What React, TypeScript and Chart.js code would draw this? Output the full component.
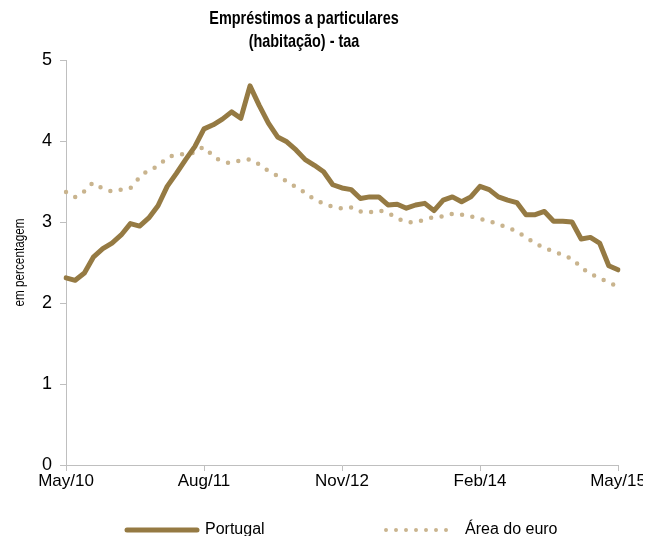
import React, { useEffect, useRef } from "react";
import { Chart, registerables } from "chart.js";

Chart.register(...registerables);

const MONTHS = ["Jan", "Feb", "Mar", "Apr", "May", "Jun", "Jul", "Aug", "Sep", "Oct", "Nov", "Dec"];
const START_MONTH = 4; // May
const START_YEAR = 10;
const N_POINTS = 61;
const TICK_EVERY = 15;

const categories: string[] = Array.from({ length: N_POINTS }, (_, i) => {
  const m = START_MONTH + i;
  return `${MONTHS[m % 12]}/${START_YEAR + Math.floor(m / 12)}`;
});

const portugal = [
  2.31, 2.28, 2.37, 2.57, 2.67, 2.74, 2.84, 2.98, 2.95, 3.05,
  3.20, 3.44, 3.60, 3.77, 3.93, 4.15, 4.20, 4.27, 4.36, 4.28,
  4.68, 4.44, 4.22, 4.05, 3.99, 3.89, 3.77, 3.70, 3.62, 3.46,
  3.42, 3.40, 3.29, 3.31, 3.31, 3.21, 3.22, 3.17, 3.21, 3.23,
  3.14, 3.27, 3.31, 3.25, 3.31, 3.44, 3.40, 3.31, 3.27, 3.24,
  3.09, 3.09, 3.13, 3.01, 3.01, 3.00, 2.79, 2.81, 2.74, 2.46,
  2.41,
];

const euroArea = [
  3.37, 3.31, 3.38, 3.48, 3.41, 3.38, 3.40, 3.42, 3.55, 3.64,
  3.69, 3.79, 3.83, 3.84, 3.86, 3.92, 3.81, 3.75, 3.73, 3.76,
  3.77, 3.71, 3.63, 3.57, 3.50, 3.43, 3.36, 3.28, 3.23, 3.19,
  3.17, 3.18, 3.13, 3.12, 3.14, 3.11, 3.05, 3.00, 3.00, 3.03,
  3.06, 3.07, 3.10, 3.09, 3.07, 3.04, 3.01, 2.97, 2.93, 2.88,
  2.81, 2.74, 2.68, 2.64, 2.59, 2.54, 2.44, 2.36, 2.31, 2.25,
  2.21,
];

const yTicks = [0, 1, 2, 3, 4, 5];

const TITLE_LINES = ["Empréstimos a particulares", "(habitação) - taa"];
const Y_TITLE = "em percentagem";
const SERIES_NAMES = ["Portugal", "Área do euro"];

const C_PT = "#957A43";
const C_EU = "#C9B48E";
const C_AXIS = "#BFBFBF";
const FONT = "'Liberation Sans', Arial, sans-serif";

function narrowText(ctx: any, text: string, x: number, y: number, sx: number) {
  ctx.save();
  ctx.translate(x, y);
  ctx.scale(sx, 1);
  ctx.fillText(text, 0, 0);
  ctx.restore();
}

const overlayPlugin = {
  id: "overlay",
  afterDraw(chart: any) {
    const ctx = chart.ctx;
    const area = chart.chartArea;
    ctx.save();
    // title
    ctx.fillStyle = "#000";
    ctx.textAlign = "center";
    ctx.textBaseline = "middle";
    ctx.font = `bold 19px ${FONT}`;
    const tx = 296;
    narrowText(ctx, TITLE_LINES[0], tx, 11, 0.76);
    narrowText(ctx, TITLE_LINES[1], tx, 34, 0.76);
    // y title
    ctx.save();
    ctx.translate(12, (area.top + area.bottom) / 2);
    ctx.rotate(-Math.PI / 2);
    ctx.font = `14px ${FONT}`;
    narrowText(ctx, Y_TITLE, 0, 0, 0.84);
    ctx.restore();
    // legend
    const ly = chart.height - 6;
    ctx.textAlign = "left";
    ctx.font = `16px ${FONT}`;
    ctx.strokeStyle = C_PT;
    ctx.lineWidth = 5;
    ctx.lineCap = "round";
    ctx.beginPath();
    ctx.moveTo(119, ly);
    ctx.lineTo(189, ly);
    ctx.stroke();
    ctx.fillText(SERIES_NAMES[0], 197, ly);
    ctx.strokeStyle = C_EU;
    ctx.lineWidth = 4;
    ctx.setLineDash([0, 10]);
    ctx.beginPath();
    ctx.moveTo(378, ly);
    ctx.lineTo(440, ly);
    ctx.stroke();
    ctx.setLineDash([]);
    ctx.fillText(SERIES_NAMES[1], 457, ly);
    ctx.restore();
  },
};

export default function App() {
  const ref = useRef<HTMLCanvasElement>(null);
  useEffect(() => {
    if (!ref.current) return;
    const chart = new Chart(ref.current, {
      type: "line",
      data: {
        labels: categories,
        datasets: [
          {
            label: SERIES_NAMES[0],
            data: portugal,
            borderColor: C_PT,
            borderWidth: 5,
            pointRadius: 0,
            tension: 0,
            borderJoinStyle: "round",
            borderCapStyle: "round",
          },
          {
            label: SERIES_NAMES[1],
            data: euroArea,
            borderColor: C_EU,
            borderWidth: 4.5,
            borderDash: [0, 10.5],
            borderCapStyle: "round",
            pointRadius: 0,
            tension: 0.3,
          },
        ],
      },
      options: {
        animation: false,
        responsive: false,
        maintainAspectRatio: false,
        devicePixelRatio: 1,
        layout: { autoPadding: false, padding: { top: 52, right: 33, left: 0, bottom: 0 } },
        plugins: {
          legend: { display: false },
          title: { display: false },
          tooltip: { enabled: false },
        },
        scales: {
          x: {
            type: "category",
            offset: false,
            grid: {
              drawOnChartArea: false,
              drawTicks: true,
              tickLength: 6,
              tickColor: (c: any) => (c.index % TICK_EVERY === 0 ? C_AXIS : "rgba(0,0,0,0)"),
            },
            border: { color: C_AXIS, width: 1 },
            ticks: {
              autoSkip: false,
              maxRotation: 0,
              padding: 0,
              color: "#000",
              font: { family: FONT, size: 17 },
              callback: (_v: any, i: number) => (i % TICK_EVERY === 0 ? categories[i] : ""),
            },
            afterFit: (s: any) => {
              s.height = 71;
              s.paddingLeft = 0;
              s.paddingRight = 0;
            },
          },
          y: {
            min: 0,
            max: 5,
            afterBuildTicks: (s: any) => {
              s.ticks = yTicks.map((v) => ({ value: v }));
            },
            grid: { drawOnChartArea: false, tickLength: 6, tickColor: C_AXIS },
            border: { color: C_AXIS, width: 1 },
            ticks: {
              color: "#000",
              padding: 8,
              font: { family: FONT, size: 18 },
            },
            afterFit: (s: any) => {
              s.width = 58;
              s.paddingTop = 0;
              s.paddingBottom = 0;
            },
          },
        },
      },
      plugins: [overlayPlugin],
    });
    return () => chart.destroy();
  }, []);
  return (
    <div style={{ width: 643, height: 528 }}>
      <canvas ref={ref} width={643} height={528} style={{ display: "block" }} />
    </div>
  );
}
